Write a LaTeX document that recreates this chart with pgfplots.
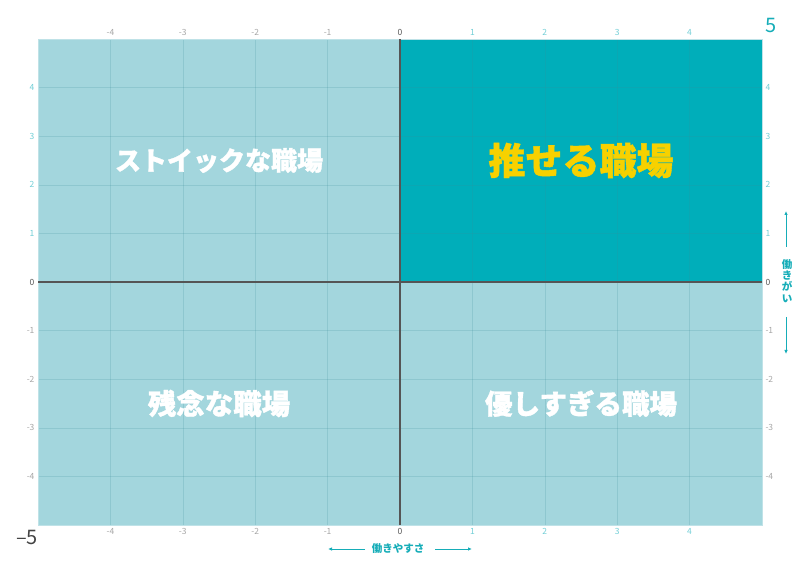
\documentclass[border=0pt]{standalone}
\usepackage{pgfplots}
\pgfplotsset{compat=1.18}
\usepackage{fontspec}
\setmainfont{Noto Sans CJK JP}
\newfontfamily\heavyfont{Noto Sans CJK JP}[BoldFeatures={FakeBold=1.2}]
\usetikzlibrary{arrows.meta}

\definecolor{light}{HTML}{A3D6DD}
\definecolor{dark}{HTML}{00AEBA}
\definecolor{gridl}{HTML}{3B8F99}
\definecolor{neg}{HTML}{A6A6A6}
\definecolor{pos}{HTML}{72CED6}
\definecolor{zer}{HTML}{555555}
\definecolor{accent}{HTML}{16ADB8}
\definecolor{gold}{HTML}{F7D100}

\pgfplotsset{
  quad/.style={
    scale only axis, width=724pt, height=486pt,
    at={(0pt,0pt)}, anchor=south west,
    xmin=-5, xmax=5, ymin=-5, ymax=5,
    xtick={-4,...,4}, ytick={-4,...,4},
    major tick length=0pt, tick style={draw=none},
    xticklabels={\textcolor{neg}{-4},\textcolor{neg}{-3},\textcolor{neg}{-2},\textcolor{neg}{-1},
      \textcolor{zer}{0},\textcolor{pos}{1},\textcolor{pos}{2},\textcolor{pos}{3},\textcolor{pos}{4}},
    yticklabels={\textcolor{neg}{-4},\textcolor{neg}{-3},\textcolor{neg}{-2},\textcolor{neg}{-1},
      \textcolor{zer}{0},\textcolor{pos}{1},\textcolor{pos}{2},\textcolor{pos}{3},\textcolor{pos}{4}},
    ticklabel style={font=\fontsize{8.5}{9}\selectfont},
  }
}

\begin{document}
\begin{tikzpicture}
\path[use as bounding box] (-38pt,-40pt) rectangle (762pt,525pt);

\begin{axis}[quad,
  axis on top,
  grid=major,
  major grid style={gridl, opacity=0.2, line width=0.5pt},
  axis line style={draw=light!70!white, line width=1pt},
]
  % quadrants
  \addplot[fill=light, draw=none] coordinates {(-5,-5) (5,-5) (5,5) (-5,5)} -- cycle;
  \addplot[fill=dark, draw=none] coordinates {(0,0) (5,0) (5,5) (0,5)} -- cycle;

  \coordinate (ob) at (axis cs:0,-5);
  \coordinate (ot) at (axis cs:0,5);
  \coordinate (ol) at (axis cs:-5,0);
  \coordinate (or) at (axis cs:5,0);
  \coordinate (q1) at (axis cs:2.5,2.5);
  \coordinate (q2) at (axis cs:-2.5,2.5);
  \coordinate (q3) at (axis cs:-2.5,-2.5);
  \coordinate (q4) at (axis cs:2.5,-2.5);
\end{axis}

% tick labels on the top and right side
\begin{axis}[quad,
  axis line style={draw=none},
  xticklabel pos=right, yticklabel pos=right,
]
  \addplot[draw=none] coordinates {(0,0)};
\end{axis}

\draw[zer, line width=1.6pt] (ob) -- (ot);
\draw[zer, line width=1.6pt] (ol) -- (or);

% quadrant names
\node[text=white, font=\heavyfont\bfseries\fontsize{26}{26}\selectfont] at (q2) {ストイックな職場};
\node[text=gold, font=\heavyfont\bfseries\fontsize{37}{37}\selectfont] at (q1) {推せる職場};
\node[text=white, font=\heavyfont\bfseries\fontsize{28.5}{28.5}\selectfont] at (q3) {残念な職場};
\node[text=white, font=\heavyfont\bfseries\fontsize{27.5}{27.5}\selectfont] at (q4) {優しすぎる職場};

% corner values
\node[text=accent, font=\fontsize{20}{20}\selectfont] at (733pt,499pt) {5};
\node[text=zer!80!black, font=\fontsize{20}{20}\selectfont] at (-11pt,-12pt) {–5};

% x axis title
\node[text=accent, font=\bfseries\fontsize{10.5}{11}\selectfont] at (360pt,-24pt) {働きやすさ};
\draw[accent, line width=0.8pt, -{Latex[length=4pt,width=3.5pt]}] (327pt,-24pt) -- (290pt,-24pt);
\draw[accent, line width=0.8pt, -{Latex[length=4pt,width=3.5pt]}] (397pt,-24pt) -- (434pt,-24pt);

% y axis title
\node[text=accent, font=\bfseries\fontsize{10.5}{11.2}\selectfont, align=center, inner sep=0pt] at (749pt,244pt) {働\\き\\が\\い};
\draw[accent, line width=0.8pt, -{Latex[length=4pt,width=3.5pt]}] (748pt,278pt) -- (748pt,314pt);
\draw[accent, line width=0.8pt, -{Latex[length=4pt,width=3.5pt]}] (748pt,208pt) -- (748pt,171pt);
\end{tikzpicture}
\end{document}
